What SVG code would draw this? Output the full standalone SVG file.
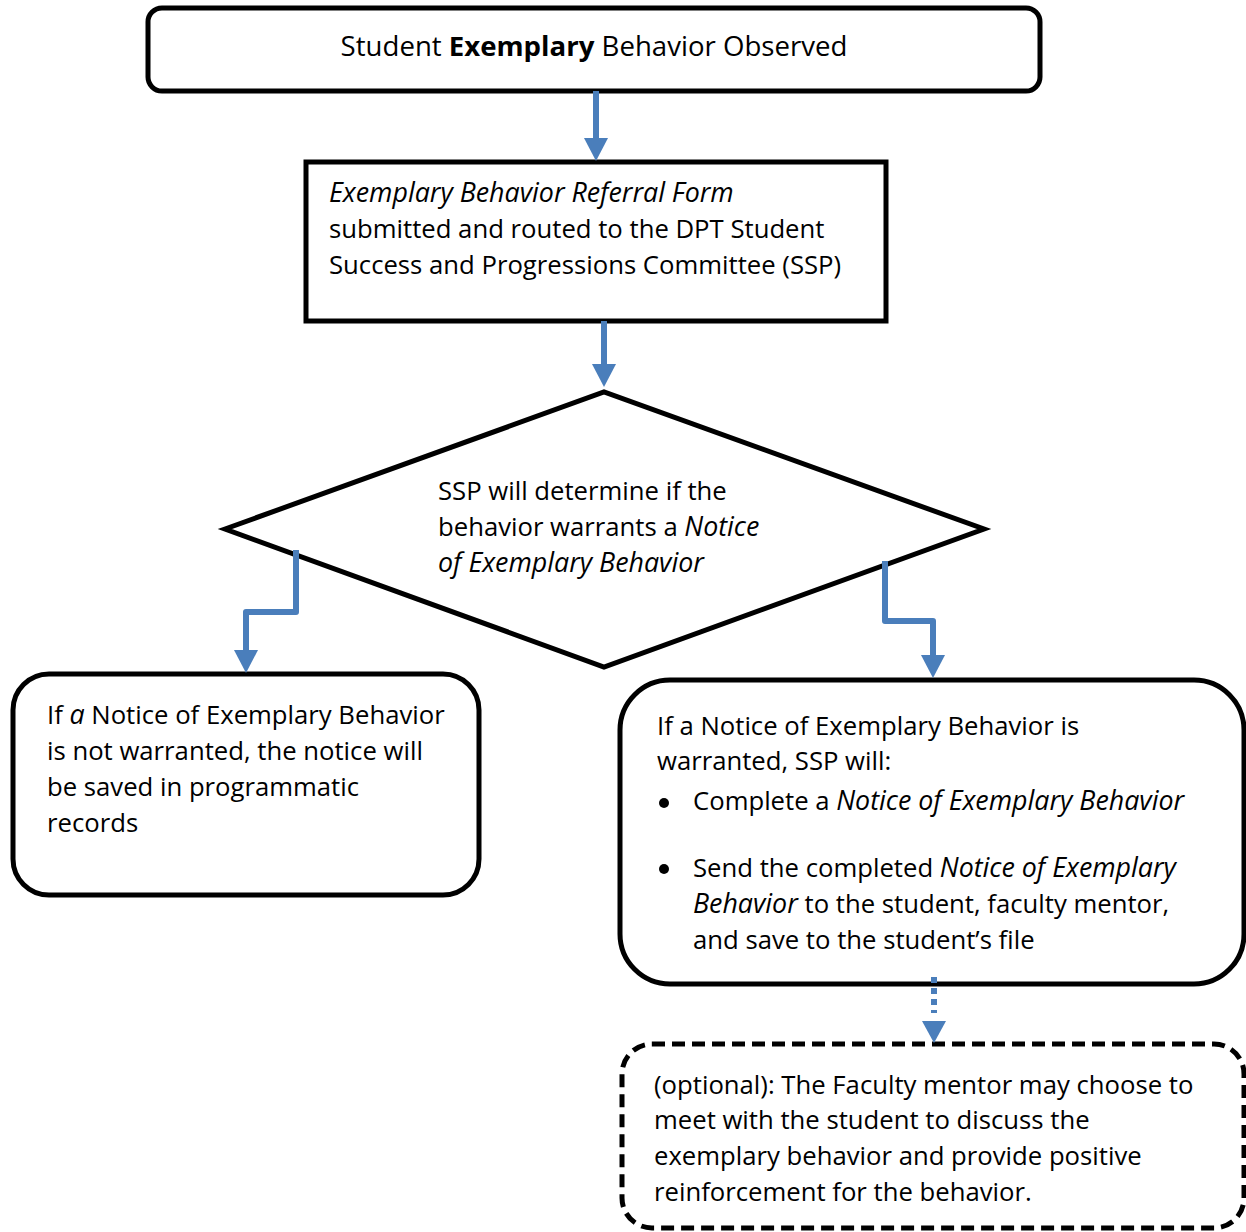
<svg xmlns="http://www.w3.org/2000/svg" width="1246" height="1232" viewBox="0 0 1246 1232">
<style>
.box{fill:#fff;stroke:#000;stroke-width:5}
.dash{fill:#fff;stroke:#000;stroke-width:5;stroke-dasharray:13 7}
.t{font-family:"Open Sans","Liberation Sans",sans-serif;font-size:25.7px;fill:#000}
.i{font-style:italic;font-size:26.8px}
.conn{fill:none;stroke:#4a7ebb;stroke-width:6;stroke-linejoin:round}
.head{fill:#4a7ebb}
</style>
<rect width="1246" height="1232" fill="#fff"/>
<g id="n1">
<rect class="box" x="148" y="8" width="892" height="83" rx="14"/>
<text class="t" x="594" y="56" text-anchor="middle" style="font-size:27.6px">Student <tspan font-weight="bold">Exemplary</tspan> Behavior Observed</text>
</g>
<g id="n2">
<rect class="box" x="306" y="162" width="580" height="159"/>
<text class="t" x="329" y="202"><tspan class="i">Exemplary Behavior Referral Form</tspan></text>
<text class="t" x="329" y="238">submitted and routed to the DPT Student</text>
<text class="t" x="329" y="274">Success and Progressions Committee (SSP)</text>
</g>
<g id="n3">
<polygon class="box" points="225,529 604,392 984,529 604,667"/>
<text class="t" x="438" y="500">SSP will determine if the</text>
<text class="t" x="438" y="536">behavior warrants a <tspan class="i">Notice</tspan></text>
<text class="t" x="438" y="572"><tspan class="i">of Exemplary Behavior</tspan></text>
</g>
<g id="n4">
<rect class="box" x="13" y="674" width="466" height="221" rx="36"/>
<text class="t" x="47" y="724">If <tspan class="i">a</tspan> Notice of Exemplary Behavior</text>
<text class="t" x="47" y="760">is not warranted, the notice will</text>
<text class="t" x="47" y="796">be saved in programmatic</text>
<text class="t" x="47" y="832">records</text>
</g>
<g id="n5">
<rect class="box" x="620" y="680" width="624" height="304" rx="50"/>
<text class="t" x="657" y="735">If a Notice of Exemplary Behavior is</text>
<text class="t" x="657" y="770">warranted, SSP will:</text>
<circle cx="664" cy="803" r="5"/>
<text class="t" x="693" y="810">Complete a <tspan class="i">Notice of Exemplary Behavior</tspan></text>
<circle cx="664" cy="869" r="5"/>
<text class="t" x="693" y="877">Send the completed <tspan class="i">Notice of Exemplary</tspan></text>
<text class="t" x="693" y="913"><tspan class="i">Behavior</tspan> to the student, faculty mentor,</text>
<text class="t" x="693" y="949">and save to the student’s file</text>
</g>
<g id="n6">
<rect class="dash" x="622" y="1044" width="622" height="184" rx="30"/>
<text class="t" x="654" y="1094">(optional): The Faculty mentor may choose to</text>
<text class="t" x="654" y="1129">meet with the student to discuss the</text>
<text class="t" x="654" y="1165">exemplary behavior and provide positive</text>
<text class="t" x="654" y="1201">reinforcement for the behavior.</text>
</g>
<g id="connectors">
<path class="conn" d="M596,91 V140"/>
<polygon class="head" points="584,138 608,138 596,161"/>
<path class="conn" d="M604,321 V366"/>
<polygon class="head" points="592,364 616,364 604,387"/>
<path class="conn" d="M296,550 V612 H246 V652"/>
<polygon class="head" points="234,650 258,650 246,673"/>
<path class="conn" d="M885,561 V621 H933 V657"/>
<polygon class="head" points="921,655 945,655 933,678"/>
<path class="conn" d="M934,977 V1013" stroke-dasharray="6 5"/>
<polygon class="head" points="922,1021 946,1021 934,1043"/>
</g>
</svg>
